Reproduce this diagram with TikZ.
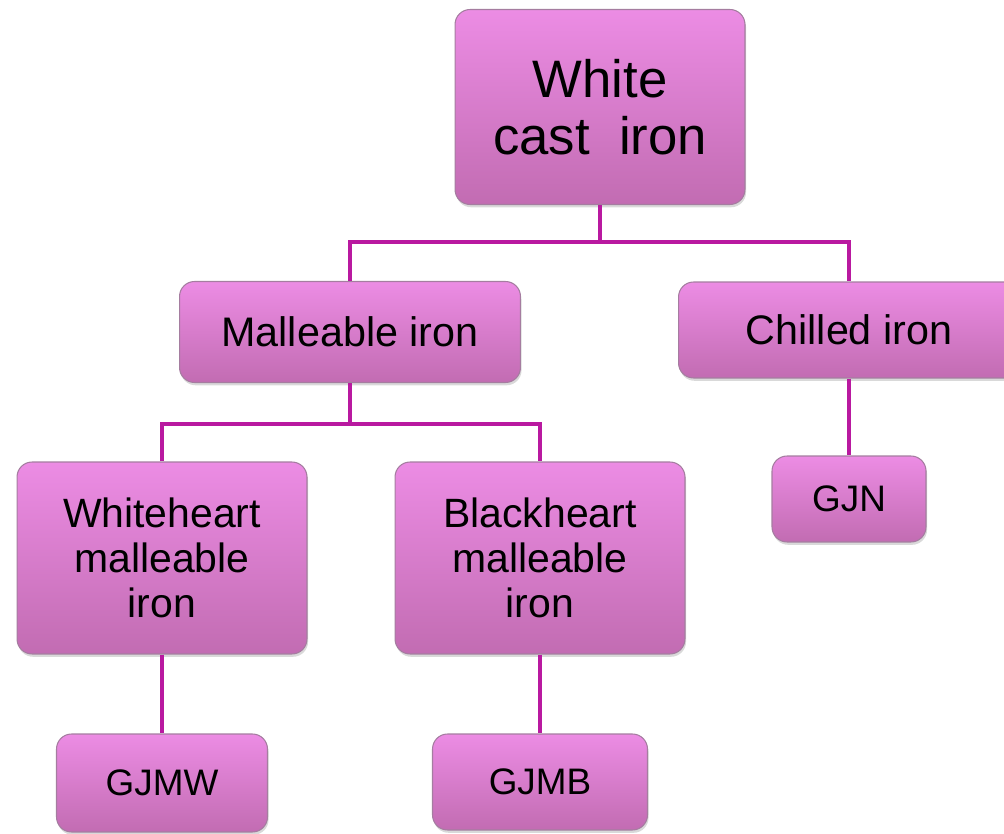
\documentclass[tikz,border=0pt]{standalone}
\usepackage{fontspec}
\setmainfont{Liberation Sans}
\usetikzlibrary{shadows}
\definecolor{boxtop}{RGB}{236,140,228}
\definecolor{boxbot}{RGB}{194,108,178}
\definecolor{boxline}{RGB}{165,125,160}
\definecolor{linkcol}{RGB}{185,25,160}
\begin{document}
\begin{tikzpicture}[x=0.02cm, y=-0.02cm,
    box/.style={draw=boxline, line width=0.6pt, rounded corners=0.3cm,
        top color=boxtop, bottom color=boxbot, align=center, inner sep=0pt,
        drop shadow={opacity=0.3, shadow xshift=0.6pt, shadow yshift=-1.6pt}},
    big/.style={font=\fontsize{30}{32.5}\selectfont},
    mid/.style={font=\fontsize{23.5}{28}\selectfont},
    tall/.style={font=\fontsize{23.3}{25.5}\selectfont},
    small/.style={font=\fontsize{21}{25.5}\selectfont},
    link/.style={draw=linkcol, line width=2.8pt}]
    \useasboundingbox (0,0) rectangle (1004,834);
    \clip (0,0) rectangle (1004,834);
    % Buses between the levels
    \coordinate (bus1) at (600,242);
    \coordinate (bus2) at (350,424);
    % Boxes
    \node[box, big, minimum width=5.8cm, minimum height=3.9cm] (white) at (600,107) {White\\cast\ \ iron};
    \node[box, mid, minimum width=6.82cm, minimum height=2.02cm] (malle) at (350,332) {Malleable iron};
    \node[box, mid, minimum width=6.82cm, minimum height=1.92cm] (chill) at (849,330) {Chilled iron};
    \node[box, tall, minimum width=5.8cm, minimum height=3.84cm] (wheart) at (162,558) {Whiteheart\\malleable\\iron};
    \node[box, tall, minimum width=5.8cm, minimum height=3.84cm] (bheart) at (540,558) {Blackheart\\malleable\\iron};
    \node[box, small, minimum width=3.08cm, minimum height=1.72cm] (gjn) at (849,499) {GJN};
    \node[box, small, minimum width=4.22cm, minimum height=1.96cm] (gjmw) at (162,783) {GJMW};
    \node[box, small, minimum width=4.3cm, minimum height=1.92cm] (gjmb) at (540,782) {GJMB};
    % Connectors
    \draw[link] (white.south) -- (bus1);
    \draw[link] (malle.north) |- (bus1) -| (chill.north);
    \draw[link] (malle.south) -- (bus2);
    \draw[link] (wheart.north) |- (bus2) -| (bheart.north);
    \draw[link] (wheart.south) -- (gjmw.north);
    \draw[link] (bheart.south) -- (gjmb.north);
    \draw[link] (chill.south) -- (gjn.north);
\end{tikzpicture}
\end{document}
